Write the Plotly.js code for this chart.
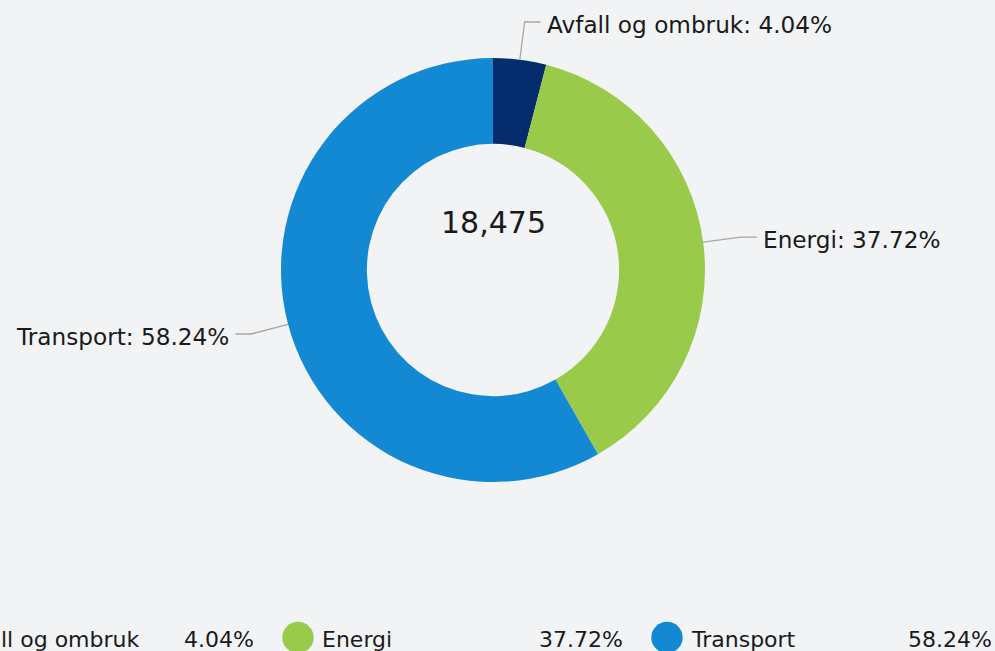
<!DOCTYPE html>
<html>
<head>
<meta charset="utf-8">
<script src="https://cdn.plot.ly/plotly-3.0.1.min.js"></script>
<style>
html,body{margin:0;padding:0;background:#f1f3f5;}
#chart{width:995px;height:651px;}
</style>
</head>
<body>
<div id="chart"></div>
<script>
const categories = ["Avfall og ombruk", "Energi", "Transport"];
const values = [746, 6969, 10760];
const colors = ["#052d6e", "#9aca4a", "#1289d2"];
const totalLabel = "18,475";

const W = 995, H = 651;
const FONT = "DejaVu Sans, Verdana, sans-serif";
const cx = 493, cy = 270, R = 212;
const PAD = 3; // annotation inner padding compensation
const px = x => x / W;
const py = y => 1 - y / H;

const total = values.reduce((a, b) => a + b, 0);
const pct = values.map(v => (100 * v / total).toFixed(2) + "%");

const shapes = [];
const annotations = [];

// data labels with leader lines
let cum = 0;
values.forEach((v, i) => {
  const mid = (cum + v / 2) / total * 2 * Math.PI;
  cum += v;
  const s = Math.sin(mid), c = Math.cos(mid);
  const x0 = cx + R * s, y0 = cy - R * c;
  const x1 = cx + (R + 38) * s, y1 = cy - (R + 38) * c;
  const dir = s >= 0 ? 1 : -1;
  const x2 = x1 + dir * 16;
  shapes.push({
    type: "path", xref: "paper", yref: "paper",
    path: `M ${px(x0)} ${py(y0)} L ${px(x1)} ${py(y1)} L ${px(x2)} ${py(y1)}`,
    line: {color: "#a6a6a6", width: 1.3}
  });
  annotations.push({
    xref: "paper", yref: "paper",
    x: px(x2 + dir * (7 - PAD)), y: py(y1 + 2.5),
    xanchor: dir > 0 ? "left" : "right", yanchor: "middle",
    text: categories[i] + ": " + pct[i],
    showarrow: false,
    font: {family: FONT, size: 23.2, color: "#1a1a1a"}
  });
});

// center total
annotations.push({
  xref: "paper", yref: "paper", x: px(cx), y: py(222),
  xanchor: "center", yanchor: "middle", text: totalLabel, showarrow: false,
  font: {family: FONT, size: 30, color: "#1a1a1a"}
});

// custom legend row (first item scrolled off the left edge, as in the source)
const legStart = -71, legStep = 369, legY = 637.5, legR = 15.7;
categories.forEach((name, i) => {
  const mx = legStart + i * legStep;
  shapes.push({
    type: "circle", xref: "paper", yref: "paper",
    x0: px(mx - legR), x1: px(mx + legR), y0: py(legY + legR), y1: py(legY - legR),
    fillcolor: colors[i], line: {width: 0}
  });
  annotations.push({
    xref: "paper", yref: "paper", x: px(mx + 25 - PAD), y: py(639),
    xanchor: "left", yanchor: "middle", text: name, showarrow: false,
    font: {family: FONT, size: 22, color: "#1a1a1a"}
  });
  annotations.push({
    xref: "paper", yref: "paper", x: px(mx + 324 + PAD), y: py(639),
    xanchor: "right", yanchor: "middle", text: pct[i], showarrow: false,
    font: {family: FONT, size: 22, color: "#1a1a1a"}
  });
});

const trace = {
  type: "pie",
  labels: categories,
  values: values,
  hole: 0.595,
  sort: false,
  direction: "clockwise",
  rotation: 0,
  textinfo: "none",
  marker: {colors: colors, line: {width: 0}},
  domain: {x: [px(cx - R), px(cx + R)], y: [py(cy + R), py(cy - R)]},
  showlegend: false
};

const layout = {
  width: W, height: H,
  margin: {l: 0, r: 0, t: 0, b: 0},
  paper_bgcolor: "#f1f3f5",
  plot_bgcolor: "#f1f3f5",
  showlegend: false,
  shapes: shapes,
  annotations: annotations,
  font: {family: FONT}
};

Plotly.newPlot("chart", [trace], layout, {displayModeBar: false, staticPlot: true});
</script>
</body>
</html>
